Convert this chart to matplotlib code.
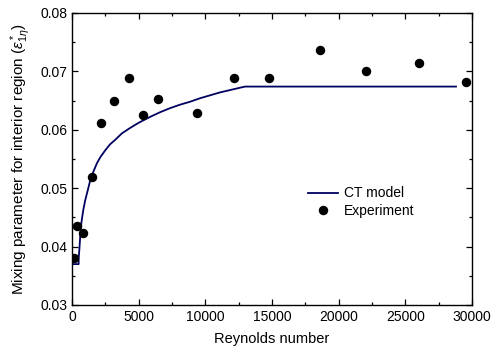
import matplotlib
matplotlib.use("Agg")
import matplotlib.pyplot as plt
from matplotlib.ticker import MultipleLocator

plt.rcParams["font.family"] = ["Liberation Sans", "DejaVu Sans"]
plt.rcParams["mathtext.fontset"] = "custom"
plt.rcParams["mathtext.rm"] = "Liberation Sans"
plt.rcParams["mathtext.it"] = "Liberation Sans:italic"

# CT model curve
model_re = [50, 500, 500, 550, 620, 700, 850, 1000, 1200, 1375, 1600, 1875,
            2150, 2500, 2850, 3250, 3750, 4350, 5000, 5850, 6600, 7350, 8100,
            8850, 9600, 10350, 11100, 11850, 12975, 28800]
model_eps = [0.0370, 0.0370, 0.0380, 0.0394, 0.0418, 0.0440, 0.0463, 0.0480,
             0.0498, 0.0514, 0.0528, 0.0543, 0.0554, 0.0565, 0.0575, 0.0583,
             0.0594, 0.0603, 0.0612, 0.0622, 0.0630, 0.0637, 0.0643, 0.0648,
             0.0654, 0.0659, 0.0664, 0.0668, 0.0674, 0.0674]

# experimental points
exp_re = [175, 375, 825, 1475, 2175, 3175, 4275, 5350, 6475, 9350, 12150,
          14775, 18575, 22075, 26000, 29575]
exp_eps = [0.0381, 0.0436, 0.0424, 0.0520, 0.0611, 0.0649, 0.0689, 0.0625,
           0.0653, 0.0629, 0.0689, 0.0689, 0.0737, 0.0701, 0.0714, 0.0681]

fig = plt.figure(figsize=(4.91, 3.56), dpi=100)
ax = fig.add_axes([0.1466, 0.1433, 0.8147, 0.8202])

ax.plot(model_re, model_eps, "-", color="#000060", lw=1.3, label="CT model")
ax.plot(exp_re, exp_eps, "o", color="black", ms=5.8, ls="none",
        label="Experiment")

ax.set_xlim(0, 30000)
ax.set_ylim(0.03, 0.08)
ax.xaxis.set_major_locator(MultipleLocator(5000))
ax.xaxis.set_minor_locator(MultipleLocator(2500))
ax.yaxis.set_major_locator(MultipleLocator(0.01))
ax.yaxis.set_minor_locator(MultipleLocator(0.005))
ax.tick_params(which="both", direction="in", top=True, right=True,
               labelsize=10, width=0.9)
ax.tick_params(which="major", length=4.5)
ax.tick_params(which="minor", length=2.5)
for s in ax.spines.values():
    s.set_linewidth(1.0)

ax.set_xlabel("Reynolds number", fontsize=10.5, labelpad=6)
ax.set_ylabel(r"Mixing parameter for interior region ($\varepsilon^*_{1\eta}$)",
              fontsize=11, labelpad=5)

ax.legend(loc="upper left", bbox_to_anchor=(0.572, 0.43), frameon=False,
          fontsize=10, handlelength=2.2, handletextpad=0.4, labelspacing=0.25,
          borderpad=0)

fig.savefig("out.png", dpi=100)
